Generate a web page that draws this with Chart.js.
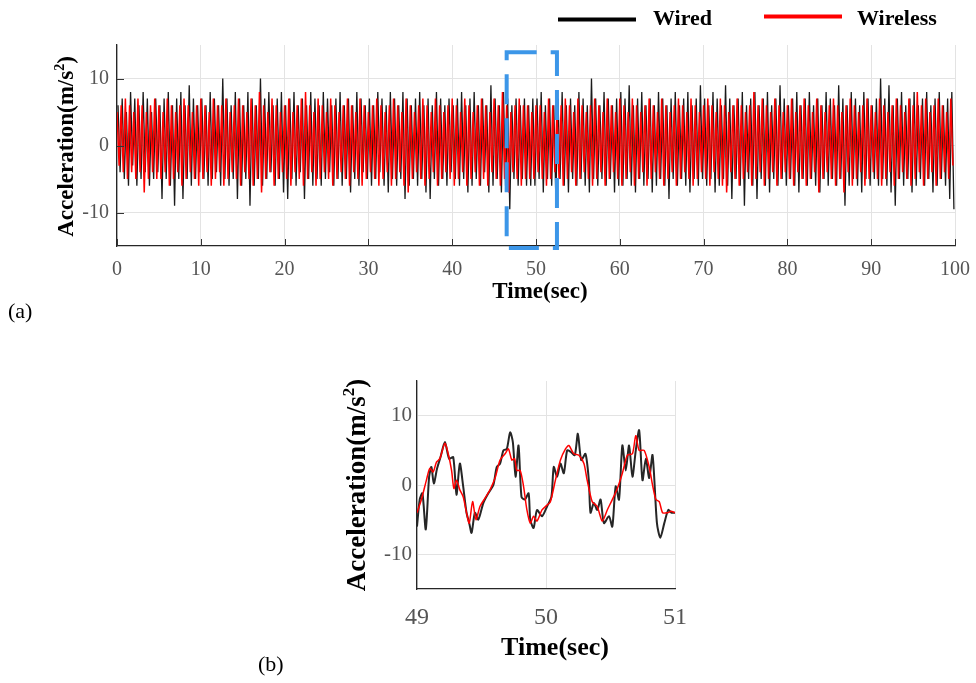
<!DOCTYPE html>
<html>
<head>
<meta charset="utf-8">
<script src="https://cdn.jsdelivr.net/npm/chart.js@4.4.1/dist/chart.umd.min.js"></script>
<style>
  html, body { margin: 0; padding: 0; background: #fff; }
  #wrap { position: relative; width: 976px; height: 683px; }
  canvas { position: absolute; left: 0; top: 0; }
</style>
</head>
<body>
<div id="wrap">
  <canvas id="chartA" width="976" height="683"></canvas>
  <canvas id="chartB" width="976" height="683"></canvas>
</div>
<script>
// ---- data ----
const seriesNames = ['Wired', 'Wireless'];

// panel (a): peak / trough values, one every 0.25 s
const stepA = 0.25;
const wiredStartA = 0.12;
const wiredA = [
  6,-4, 7,-5, 5,-6, 8,-3, 7,-6, 6,-5, 8,-4, 7,-6, 5,-5, 7,-4, 6,-8, 7,-5, 8,-6, 6,-9, 7,-5, 8,-8, 6,-5, 9,-6, 7,-5, 6,-4,
  7,-5, 6,-6, 8,-5, 7,-4, 6,-6, 10,-5, 7,-6, 6,-5, 8,-8, 7,-6, 6,-5, 8,-9, 7,-6, 6,-5, 10,-6, 7,-5, 8,-4, 6,-6, 7,-5, 8,-7,
  6,-8, 7,-5, 8,-6, 6,-4, 7,-8, 6,-5, 8,-6, 7,-5, 6,-6, 8,-5, 7,-4, 6,-6, 7,-5, 8,-6, 6,-5, 7,-7, 6,-5, 8,-6, 7,-4, 6,-5,
  7,-6, 6,-5, 8,-4, 7,-6, 6,-7, 8,-5, 7,-6, 6,-5, 8,-8, 7,-6, 6,-5, 7,-6, 8,-5, 6,-7, 7,-8, 6,-5, 8,-6, 7,-5, 6,-6, 7,-4,
  6,-5, 7,-6, 8,-5, 6,-7, 7,-6, 8,-5, 6,-6, 7,-4, 6,-7, 9,-6, 7,-5, 6,-7, 8,-6, 7,-9.5, 6,-5, 7,-6, 6,-5, 7,-6, 6,-6, 7,-6,
  7,-5, 8,-7, 6,-5, 7,-6, 6,-8, 7,-5, 8,-6, 6,-7, 7,-5, 6,-6, 8,-5, 7,-6, 6,-7, 10,-5, 7,-6, 6,-5, 8,-6, 7,-5, 6,-7, 7,-6,
  8,-6, 7,-5, 9,-6, 6,-7, 7,-5, 8,-6, 6,-5, 7,-7, 6,-6, 8,-5, 7,-6, 6,-8, 7,-5, 8,-6, 6,-5, 7,-6, 8,-7, 6,-5, 7,-6, 9,-5,
  7,-6, 6,-5, 8,-7, 7,-6, 6,-5, 9,-6, 7,-8, 6,-5, 7,-6, 8,-9, 6,-5, 7,-6, 8,-8, 6,-5, 7,-6, 8,-7, 6,-5, 7,-6, 9,-5, 7,-6,
  6,-5, 7,-6, 8,-7, 6,-5, 7,-6, 8,-5, 6,-6, 7,-7, 6,-5, 8,-6, 7,-5, 6,-6, 9,-5, 7,-9, 6,-6, 8,-5, 7,-6, 6,-7, 8,-5, 7,-6,
  6,-5, 7,-6, 10,-5, 7,-6, 9,-7, 6,-9, 7,-5, 8,-6, 6,-5, 7,-7, 8,-6, 6,-5, 7,-6, 8,-5, 6,-7, 7,-6, 8,-5, 6,-6, 7,-8, 8,-9.5
];
const wirelessA = [
  5,-3, 6,-4, 7,-5, 6,-4, 5,-5, 7,-4, 6,-7, 5,-5, 6,-4, 7,-5, 6,-5, 5,-4, 7,-6, 6,-5, 5,-4, 6,-6, 7,-5, 6,-4, 5,-5, 6,-6,
  7,-5, 6,-4, 5,-6, 7,-5, 6,-4, 6,-6, 7,-5, 5,-4, 6,-5, 7,-6, 6,-4, 5,-5, 7,-6, 6,-5, 8,-7, 6,-5, 5,-4, 7,-6, 6,-5, 5,-4,
  6,-5, 7,-6, 5,-4, 6,-5, 7,-6, 8,-5, 6,-4, 5,-6, 7,-5, 6,-4, 5,-5, 7,-6, 6,-5, 5,-4, 6,-5, 7,-6, 6,-4, 5,-5, 7,-6, 6,-5,
  5,-4, 6,-5, 7,-6, 6,-5, 5,-4, 6,-6, 7,-5, 6,-4, 5,-6, 7,-7, 6,-5, 5,-4, 6,-5, 7,-6, 6,-5, 5,-4, 7,-6, 6,-5, 5,-4, 6,-5,
  7,-6, 6,-5, 5,-4, 7,-6, 6,-5, 5,-4, 6,-6, 7,-5, 6,-6, 5,-4, 7,-5, 6,-6, 8,-5, 6,-7, 5,-4, 6,-5, 7,-6, 6,-5, 6,-5, 5,-5,
  6,-4, 6,-5, 5,-6, 7,-5, 6,-4, 5,-5, 6,-6, 7,-5, 6,-4, 5,-6, 7,-5, 6,-4, 5,-5, 6,-6, 7,-5, 6,-4, 5,-6, 7,-5, 6,-4, 5,-5,
  7,-6, 6,-5, 5,-4, 7,-6, 6,-5, 5,-4, 6,-6, 7,-5, 6,-4, 5,-5, 7,-6, 6,-5, 5,-4, 6,-6, 7,-5, 6,-4, 5,-5, 7,-6, 6,-5, 5,-4,
  6,-5, 7,-6, 6,-4, 5,-5, 7,-6, 6,-7, 5,-4, 6,-5, 7,-6, 6,-5, 5,-4, 6,-6, 8,-5, 6,-4, 7,-6, 6,-5, 5,-4, 7,-6, 6,-5, 5,-4,
  6,-5, 7,-6, 5,-4, 6,-5, 7,-6, 6,-5, 5,-4, 7,-7, 6,-5, 5,-4, 6,-5, 7,-6, 6,-5, 5,-7, 6,-4, 7,-6, 6,-5, 5,-4, 6,-6, 7,-5,
  6,-4, 5,-5, 7,-6, 6,-5, 5,-4, 6,-6, 7,-5, 6,-4, 5,-5, 7,-6, 6,-5, 8,-4, 6,-6, 7,-5, 5,-4, 6,-6, 7,-5, 6,-4, 5,-5, 7,-3
];

// panel (b): 49 - 51 s close-up
const timeWiredB = [49.000,49.021,49.042,49.068,49.094,49.112,49.130,49.156,49.182,49.216,49.249,49.281,49.306,49.332,49.358,49.384,49.405,49.423,49.449,49.475,49.514,49.553,49.592,49.618,49.644,49.670,49.696,49.722,49.743,49.764,49.787,49.810,49.836,49.865,49.878,49.904,49.930,49.969,50.008,50.042,50.060,50.086,50.112,50.138,50.164,50.190,50.223,50.247,50.273,50.306,50.332,50.345,50.371,50.397,50.423,50.449,50.488,50.514,50.540,50.566,50.592,50.618,50.644,50.670,50.696,50.722,50.748,50.774,50.800,50.826,50.860,50.886,50.917,50.948,50.974,51.000];
const wiredB = [-6.0,-2.1,-1.2,-6.4,1.2,2.6,0.2,2.4,4.0,6.2,3.8,4.0,-1.4,3.1,-0.2,-4.0,-5.5,-6.9,-4.0,-5.0,-2.6,-1.2,0,2.6,3.1,5.0,5.2,7.6,6.2,1.2,5.7,-1.7,-2.1,-1.2,-5.0,-6.2,-3.6,-4.5,-3.1,-1.7,2.6,1.2,3.1,1.7,5.0,4.8,4.3,7.4,3.6,4.5,0.7,-4.0,-2.6,-3.6,-2.1,-5.5,-4.5,-6.0,-0.2,-2.1,5.7,2.1,5.7,1.2,5.0,7.9,0.7,3.8,1.0,4.3,-5.5,-7.6,-5.5,-3.6,-4.0,-4.0];
const timeWirelessB = [49.000,49.034,49.073,49.099,49.125,49.151,49.177,49.216,49.242,49.268,49.286,49.306,49.332,49.358,49.384,49.405,49.431,49.457,49.488,49.527,49.566,49.605,49.644,49.683,49.709,49.735,49.756,49.774,49.800,49.826,49.852,49.878,49.904,49.930,49.969,50.008,50.034,50.073,50.112,50.151,50.177,50.216,50.255,50.294,50.319,50.358,50.397,50.436,50.475,50.514,50.553,50.592,50.631,50.670,50.696,50.722,50.761,50.800,50.826,50.852,50.878,50.904,50.943,50.969,51.000];
const wirelessB = [-4.0,-2.1,0.7,2.4,1.9,3.3,3.8,6.0,4.5,2.1,-0.5,0.7,-0.7,-1.7,-4.0,-5.5,-2.4,-5.0,-3.1,-1.9,-0.7,1.0,3.6,4.5,5.2,3.6,3.8,2.1,2.1,-0.2,-3.6,-5.5,-4.5,-5.2,-3.6,-2.9,-2.4,0.7,3.6,5.2,5.7,4.5,4.3,3.1,0.7,-2.4,-3.1,-5.2,-3.6,-2.1,-0.5,1.7,4.3,4.5,7.1,5.0,5.0,2.6,0,-2.1,-2.4,-4.0,-4.0,-3.8,-4.0];

const xTicksA = [0, 10, 20, 30, 40, 50, 60, 70, 80, 90, 100];
const xTicksB = [49, 50, 51];
const yTicks = [-10, 0, 10];
const zoomBox = { x0: 46.5, x1: 52.5, y0: -15.3, y1: 13.9 };

// ---- helpers ----
const serif = '"Liberation Serif", "Times New Roman", serif';
const wiredColor = '#1a1a1a';
const wirelessColor = '#ff0000';

function drawYTitle(ctx, cx, cy, size) {
  ctx.save();
  ctx.translate(cx, cy);
  ctx.rotate(-Math.PI / 2);
  const main = 'bold ' + size + 'px ' + serif;
  const sup = 'bold ' + Math.round(size * 0.62) + 'px ' + serif;
  ctx.font = main;
  const w1 = ctx.measureText('Acceleration(m/s').width;
  const w3 = ctx.measureText(')').width;
  ctx.font = sup;
  const w2 = ctx.measureText('2').width;
  let x = -(w1 + w2 + w3) / 2;
  const base = size * 0.32;
  ctx.fillStyle = '#000';
  ctx.textAlign = 'left';
  ctx.textBaseline = 'alphabetic';
  ctx.font = main; ctx.fillText('Acceleration(m/s', x, base); x += w1;
  ctx.font = sup; ctx.fillText('2', x, base - size * 0.4); x += w2;
  ctx.font = main; ctx.fillText(')', x, base);
  ctx.restore();
}

function drawText(ctx, text, x, y, font, align) {
  ctx.save();
  ctx.font = font;
  ctx.fillStyle = '#000';
  ctx.textAlign = align || 'center';
  ctx.textBaseline = 'alphabetic';
  ctx.fillText(text, x, y);
  ctx.restore();
}

function axisOptions(xMin, xMax, xTicks, yWidth, xHeight, xFont, yFont, xPad, yPad) {
  return {
    x: {
      type: 'linear', min: xMin, max: xMax,
      afterBuildTicks: s => { s.ticks = xTicks.map(v => ({ value: v })); },
      afterFit: s => { s.height = xHeight; s.paddingLeft = 0; s.paddingRight = 0; },
      grid: { color: '#e3e3e3', lineWidth: 1, drawTicks: false },
      border: { display: true, color: '#262626', width: 1.3 },
      ticks: { color: '#555', font: { family: serif, size: xFont }, padding: xPad, maxRotation: 0 }
    },
    y: {
      type: 'linear', min: -15, max: 15,
      afterBuildTicks: s => { s.ticks = yTicks.map(v => ({ value: v })); },
      afterFit: s => { s.width = yWidth; s.paddingTop = 0; s.paddingBottom = 0; },
      grid: { color: '#e3e3e3', lineWidth: 1, drawTicks: false },
      border: { display: true, color: '#262626', width: 1.3 },
      ticks: { color: '#555', font: { family: serif, size: yFont }, padding: yPad }
    }
  };
}

// ---- panel (a) ----
const decorA = {
  id: 'decorA',
  afterDatasetsDraw(chart) {
    const { ctx, chartArea: a, scales: { x, y } } = chart;
    ctx.save();
    // inward tick marks
    ctx.strokeStyle = '#333';
    ctx.lineWidth = 1;
    ctx.beginPath();
    xTicksA.forEach(v => {
      const px = Math.round(x.getPixelForValue(v)) + 0.5;
      ctx.moveTo(px, a.bottom); ctx.lineTo(px, a.bottom - 7);
    });
    yTicks.forEach(v => {
      const py = Math.round(y.getPixelForValue(v)) + 0.5;
      ctx.moveTo(a.left, py); ctx.lineTo(a.left + 7, py);
    });
    ctx.stroke();
    // dashed zoom window
    ctx.strokeStyle = 'rgb(60,150,232)';
    ctx.lineWidth = 4;
    ctx.setLineDash([30, 14]);
    const bx0 = x.getPixelForValue(zoomBox.x0), bx1 = x.getPixelForValue(zoomBox.x1);
    const by0 = y.getPixelForValue(zoomBox.y1), by1 = y.getPixelForValue(zoomBox.y0);
    ctx.strokeRect(bx0, by0, bx1 - bx0, by1 - by0);
    ctx.restore();
  },
  afterDraw(chart) {
    const { ctx, chartArea: a } = chart;
    drawYTitle(ctx, 66, (a.top + a.bottom) / 2 + 1, 23);
    drawText(ctx, 'Time(sec)', 540, 298, 'bold 23px ' + serif);
    drawText(ctx, '(a)', 8, 318, '22px ' + serif, 'left');
    // legend
    ctx.save();
    ctx.lineWidth = 4;
    ctx.strokeStyle = '#000';
    ctx.beginPath(); ctx.moveTo(558, 19.5); ctx.lineTo(636, 19.5); ctx.stroke();
    ctx.strokeStyle = wirelessColor;
    ctx.beginPath(); ctx.moveTo(764, 16.5); ctx.lineTo(842, 16.5); ctx.stroke();
    ctx.restore();
    drawText(ctx, seriesNames[0], 653, 25, 'bold 22px ' + serif, 'left');
    drawText(ctx, seriesNames[1], 857, 25, 'bold 22px ' + serif, 'left');
  }
};

new Chart(document.getElementById('chartA'), {
  type: 'line',
  data: {
    datasets: [
      {
        label: seriesNames[1],
        data: wirelessA.map((v, i) => ({ x: i * stepA, y: v })),
        borderColor: wirelessColor, borderWidth: 1.5, pointRadius: 0, tension: 0
      },
      {
        label: seriesNames[0],
        data: wiredA.map((v, i) => ({ x: wiredStartA + i * stepA, y: v })).filter(p => p.x <= 100),
        borderColor: wiredColor, borderWidth: 1.3, pointRadius: 0, tension: 0
      }
    ]
  },
  options: {
    responsive: false, animation: false, events: [],
    layout: { padding: { top: 45, right: 21, left: 0, bottom: 0 } },
    plugins: { legend: { display: false }, tooltip: { enabled: false } },
    scales: axisOptions(0, 100, xTicksA, 117, 683 - 246, 20, 20, 12, 8)
  },
  plugins: [decorA]
});

// ---- panel (b) ----
const decorB = {
  id: 'decorB',
  afterDraw(chart) {
    const { ctx, chartArea: a } = chart;
    drawYTitle(ctx, 356, (a.top + a.bottom) / 2, 27);
    drawText(ctx, 'Time(sec)', 555, 655, 'bold 26px ' + serif);
    drawText(ctx, '(b)', 258, 671, '22px ' + serif, 'left');
  }
};

new Chart(document.getElementById('chartB'), {
  type: 'line',
  data: {
    datasets: [
      {
        label: seriesNames[1],
        data: timeWirelessB.map((t, i) => ({ x: t, y: wirelessB[i] })),
        borderColor: wirelessColor, borderWidth: 1.5, pointRadius: 0, tension: 0.25
      },
      {
        label: seriesNames[0],
        data: timeWiredB.map((t, i) => ({ x: t, y: wiredB[i] })),
        borderColor: '#262626', borderWidth: 2, pointRadius: 0, tension: 0.25
      }
    ]
  },
  options: {
    responsive: false, animation: false, events: [],
    layout: { padding: { top: 381, right: 976 - 675, left: 0, bottom: 0 } },
    plugins: { legend: { display: false }, tooltip: { enabled: false } },
    scales: axisOptions(49, 51, xTicksB, 417, 683 - 589, 24, 21, 14, 5)
  },
  plugins: [decorB]
});
</script>
</body>
</html>
